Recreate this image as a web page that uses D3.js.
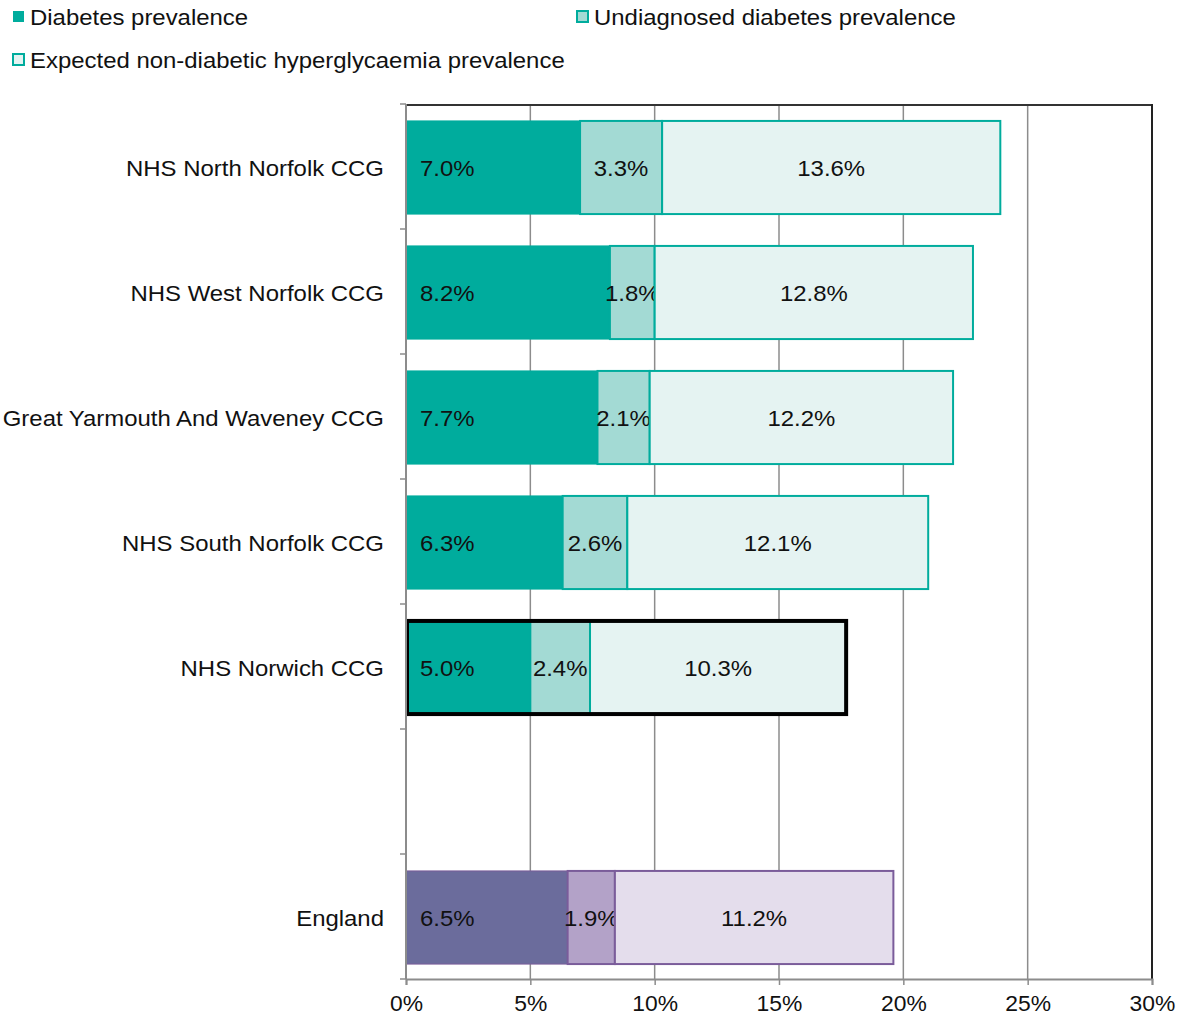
<!DOCTYPE html>
<html><head><meta charset="utf-8">
<script src="https://cdn.jsdelivr.net/npm/d3@7"></script>
<style>body{margin:0;background:#fff;} svg{display:block;font-family:"Liberation Sans",Arial,sans-serif;}</style>
</head><body>
<script>
const categories = ["NHS North Norfolk CCG","NHS West Norfolk CCG","Great Yarmouth And Waveney CCG","NHS South Norfolk CCG","NHS Norwich CCG","","England"];
const diabetes =    [7.0, 8.2, 7.7, 6.3, 5.0, null, 6.5];
const undiagnosed = [3.3, 1.8, 2.1, 2.6, 2.4, null, 1.9];
const expected =    [13.6,12.8,12.2,12.1,10.3, null, 11.2];
const seriesNames = ["Diabetes prevalence","Undiagnosed diabetes prevalence","Expected non-diabetic hyperglycaemia prevalence"];
const xTicks = [0,5,10,15,20,25,30];

const W=1178,H=1018;
const FS=22.5, SX=1.14*21/22.5;
const m={left:406,right:1152,top:104,bottom:979};
const svg=d3.select("body").append("svg").attr("width",W).attr("height",H);
const x=d3.scaleLinear().domain([0,30]).range([m.left,m.right]);
const y=d3.scaleBand().domain(d3.range(categories.length)).range([m.top,m.bottom]);
function stretch(sel){ sel.each(function(){ const t=d3.select(this); const tx=+t.attr("x")||0; t.attr("transform",`matrix(${SX},0,0,1,${-(SX-1)*tx},0)`); }); }

const teal={fill:["#00AC9D","#A3DAD4","#E5F3F2"],stroke:"#00AC9D"};
const purple={fill:["#6B6C9C","#B3A2C8","#E4DDEC"],stroke:"#7A5C9A"};

// gridlines
svg.append("g").selectAll("line").data(xTicks.slice(1,-1)).join("line")
 .attr("x1",d=>x(d)).attr("x2",d=>x(d)).attr("y1",m.top).attr("y2",m.bottom)
 .attr("stroke","#8c8c8c").attr("stroke-width",1.5);

// bars
const bh=y.bandwidth()*0.745;
categories.forEach((c,i)=>{
  if(diabetes[i]==null) return;
  const vals=[diabetes[i],undiagnosed[i],expected[i]];
  const pal = c==="England"?purple:teal;
  const y0=y(i)+(y.bandwidth()-bh)/2+1;
  let cum=0;
  vals.forEach((v,k)=>{
    const xs=x(cum), xe=x(cum+v);
    svg.append("rect").attr("x",xs).attr("y",y0).attr("width",xe-xs).attr("height",bh)
      .attr("fill",pal.fill[k]).attr("stroke",pal.stroke).attr("stroke-width",k===0?1:2);
    const tx = k===0 ? xs+14 : (xs+xe)/2;
    svg.append("text").attr("x",tx).attr("y",y0+bh/2+8.5)
      .attr("text-anchor",k===0?"start":"middle").attr("font-size",FS).attr("fill","#111")
      .text(v.toFixed(1)+"%").call(stretch);
    cum+=v;
  });
  if(c==="NHS Norwich CCG"){
    svg.append("rect").attr("x",x(0)+1).attr("y",y0).attr("width",x(cum)-x(0)-1).attr("height",bh)
      .attr("fill","none").attr("stroke","#000").attr("stroke-width",4);
  }
});

// borders
svg.append("line").attr("x1",m.left).attr("x2",m.right).attr("y1",m.top+1).attr("y2",m.top+1).attr("stroke","#333").attr("stroke-width",2);
svg.append("line").attr("x1",m.right).attr("x2",m.right).attr("y1",m.top).attr("y2",m.bottom).attr("stroke","#222").attr("stroke-width",2);

// x axis
const xa=svg.append("g").attr("transform",`translate(0,${m.bottom})`)
 .call(d3.axisBottom(x).tickValues(xTicks).tickFormat(d=>d+"%").tickSize(6).tickPadding(11));
xa.select(".domain").attr("stroke","#8c8c8c").attr("stroke-width",2);
xa.selectAll(".tick line").attr("stroke","#8c8c8c").attr("stroke-width",1.5);
xa.selectAll("text").attr("font-size",21.5).attr("fill","#111").attr("font-family","Liberation Sans, Arial, sans-serif").attr("transform",`scale(${SX},1)`);

// y axis
const ya=svg.append("g");
ya.append("line").attr("x1",m.left).attr("x2",m.left).attr("y1",m.top).attr("y2",m.bottom).attr("stroke","#8c8c8c").attr("stroke-width",2);
const bounds=d3.range(categories.length+1).map(i=>m.top+i*y.step());
ya.selectAll(".tk").data(bounds).join("line").attr("class","tk")
 .attr("x1",m.left-6).attr("x2",m.left).attr("y1",d=>d).attr("y2",d=>d).attr("stroke","#8c8c8c").attr("stroke-width",1.5);
ya.selectAll(".lbl").data(categories).join("text").attr("class","lbl")
 .attr("x",384).attr("y",(d,i)=>y(i)+y.bandwidth()/2+9.5).attr("text-anchor","end")
 .attr("font-size",FS).attr("fill","#111").text(d=>d).call(stretch);

// legend
const legPos=[[12,17],[576,17],[12,60]];
seriesNames.forEach((n,k)=>{
  const [lx,ly]=legPos[k];
  svg.append("rect").attr("x",lx+1).attr("y",ly-6).attr("width",11).attr("height",11)
    .attr("fill",teal.fill[k]).attr("stroke",teal.stroke).attr("stroke-width",k===0?0:2);
  svg.append("text").attr("x",lx+18).attr("y",ly+8).attr("font-size",FS).attr("fill","#111").text(n).call(stretch);
});
</script>
</body></html>
